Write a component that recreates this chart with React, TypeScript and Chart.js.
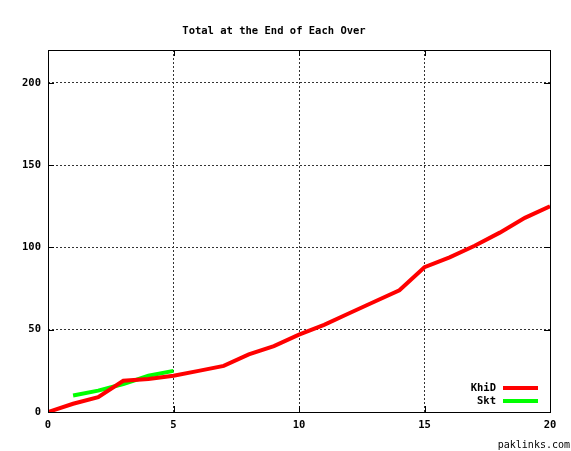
import React, { useEffect, useRef } from "react";
import { Chart, registerables } from "chart.js";

Chart.register(...registerables);

const titleText = "Total at the End of Each Over";
const khidOvers = [0, 1, 2, 3, 4, 5, 6, 7, 8, 9, 10, 11, 12, 13, 14, 15, 16, 17, 18, 19, 20];
const khidTotals = [0, 5, 9, 19, 20, 22, 25, 28, 35, 40, 47, 53, 60, 67, 74, 88, 94, 101, 109, 118, 125];
const sktOvers = [1, 2, 3, 4, 5];
const sktTotals = [10, 13, 17, 22, 25];
const xTicks = [0, 5, 10, 15, 20];
const yTicks = [0, 50, 100, 150, 200];
const seriesNames = ["KhiD", "Skt"];
const seriesColors = ["#ff0000", "#00ff00"];
const credit = "paklinks.com";

const MONO = '"DejaVu Sans Mono", "Liberation Mono", monospace';

const decorPlugin = {
  id: "decor",
  afterDraw(chart: any) {
    const { ctx, chartArea } = chart;
    const { left, right, top, bottom } = chartArea;
    const xs = chart.scales.x;
    const ys = chart.scales.y;
    ctx.save();
    ctx.strokeStyle = "#000";
    ctx.lineWidth = 1;
    ctx.setLineDash([]);
    ctx.strokeRect(Math.round(left) + 0.5, Math.round(top) + 0.5, Math.round(right - left), Math.round(bottom - top));
    const tl = 6;
    ctx.beginPath();
    xTicks.forEach((v) => {
      const px = Math.round(xs.getPixelForValue(v)) + 0.5;
      ctx.moveTo(px, bottom);
      ctx.lineTo(px, bottom - tl);
      ctx.moveTo(px, top);
      ctx.lineTo(px, top + tl);
    });
    yTicks.forEach((v) => {
      const py = Math.round(ys.getPixelForValue(v)) + 0.5;
      ctx.moveTo(left, py);
      ctx.lineTo(left + tl, py);
      ctx.moveTo(right, py);
      ctx.lineTo(right - tl, py);
    });
    ctx.stroke();
    ctx.fillStyle = "#000";
    ctx.font = `bold 10.5px ${MONO}`;
    ctx.textAlign = "center";
    ctx.textBaseline = "middle";
    ctx.fillText(titleText, 274, 31);
    ctx.textAlign = "right";
    seriesNames.forEach((n, i) => {
      const y = 388 + i * 13;
      ctx.fillStyle = "#000";
      ctx.fillText(n, 496, y);
      ctx.strokeStyle = seriesColors[i];
      ctx.lineWidth = 4;
      ctx.beginPath();
      ctx.moveTo(503, y);
      ctx.lineTo(538, y);
      ctx.stroke();
    });
    ctx.font = `10px ${MONO}`;
    ctx.fillStyle = "#000";
    ctx.textAlign = "right";
    ctx.fillText(credit, 570, 445);
    ctx.restore();
  },
};

export default function App() {
  const ref = useRef<HTMLCanvasElement>(null);
  useEffect(() => {
    document.body.style.margin = "0";
    const chart = new Chart(ref.current!, {
      type: "line",
      data: {
        datasets: [
          {
            label: seriesNames[0],
            data: khidOvers.map((x, i) => ({ x, y: khidTotals[i] })),
            borderColor: seriesColors[0],
            borderWidth: 4,
            pointRadius: 0,
            tension: 0,
          },
          {
            label: seriesNames[1],
            data: sktOvers.map((x, i) => ({ x, y: sktTotals[i] })),
            borderColor: seriesColors[1],
            borderWidth: 4,
            pointRadius: 0,
            tension: 0,
          },
        ],
      },
      options: {
        animation: false,
        responsive: false,
        layout: { padding: { top: 50, right: 21, left: 0, bottom: 0 } },
        plugins: { legend: { display: false }, title: { display: false }, tooltip: { enabled: false } },
        scales: {
          x: {
            type: "linear",
            min: 0,
            max: 20,
            afterFit: (s: any) => { s.height = 39; },
            afterBuildTicks: (s: any) => { s.ticks = xTicks.map((v) => ({ value: v })); },
            ticks: { color: "#000", padding: 7, maxRotation: 0, font: { family: MONO, size: 10.5, weight: "bold" } },
            grid: { color: "#333", drawTicks: false },
            border: { display: false, dash: [2, 2] },
          },
          y: {
            type: "linear",
            min: 0,
            max: 220,
            afterFit: (s: any) => { s.width = 48; },
            afterBuildTicks: (s: any) => { s.ticks = yTicks.map((v) => ({ value: v })); },
            ticks: { color: "#000", padding: 7, font: { family: MONO, size: 10.5, weight: "bold" } },
            grid: { color: "#333", drawTicks: false },
            border: { display: false, dash: [2, 2] },
          },
        },
      } as any,
      plugins: [decorPlugin],
    });
    return () => chart.destroy();
  }, []);
  return <canvas ref={ref} width={571} height={451} style={{ display: "block" }} />;
}
